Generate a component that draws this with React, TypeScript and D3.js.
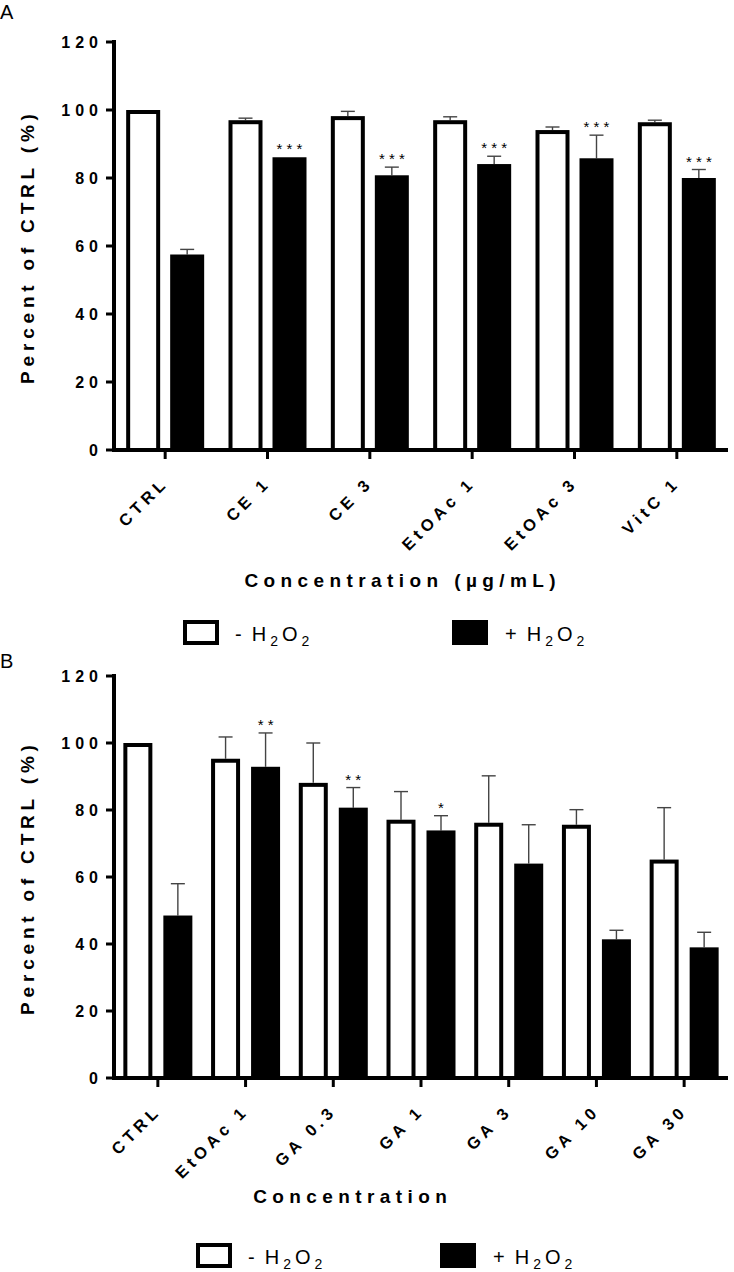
import React from "react";
import * as d3 from "d3";

const catsA = ["CTRL", "CE 1", "CE 3", "EtOAc 1", "EtOAc 3", "VitC 1"];
const minusA = [100, 97, 98.2, 97, 94.1, 96.4];
const minusErrA = [0, 0.6, 1.4, 1, 0.9, 0.6];
const plusA = [57.5, 86.1, 80.8, 84.1, 85.8, 80];
const plusErrA = [1.5, 0, 2.4, 2.3, 6.8, 2.5];
const starsA = ["", "* * *", "* * *", "* * *", "* * *", "* * *"];

const catsB = ["CTRL", "EtOAc 1", "GA 0.3", "GA 1", "GA 3", "GA 10", "GA 30"];
const minusB = [100, 95.3, 88.1, 77.1, 76.2, 75.6, 65.2];
const minusErrB = [0, 6.5, 11.9, 8.4, 14, 4.5, 15.5];
const plusB = [48.5, 92.9, 80.7, 73.9, 64, 41.4, 39];
const plusErrB = [9.5, 10.1, 6, 4.4, 11.6, 2.7, 4.5];
const starsB = ["", "* *", "* *", "*", "", "", ""];

const yTicks = [0, 20, 40, 60, 80, 100, 120];
const FONT = "'Liberation Sans', Arial, Helvetica, sans-serif";

type PanelProps = {
  letter: string;
  letterY: number;
  cats: string[];
  minus: number[];
  minusErr: number[];
  plus: number[];
  plusErr: number[];
  stars: string[];
  yTop: number;
  yZero: number;
  barW: number;
  gap: number;
  xTitle: string;
  xTitleX: number;
  xTitleY: number;
  legendY: number;
  legendX1: number;
  legendX2: number;
};

function Spaced({ text, s }: { text: string; s: number }) {
  return (
    <>
      {text.split("").map((ch, i) => (
        <tspan key={i} dx={i === 0 ? 0 : s}>
          {ch}
        </tspan>
      ))}
    </>
  );
}

function H2O2({ prefix }: { prefix: string }) {
  return (
    <>
      <tspan>{prefix}</tspan>
      <tspan dx={10}>H</tspan>
      <tspan fontSize={14} dx={4} dy={5}>2</tspan>
      <tspan dx={4} dy={-5}>O</tspan>
      <tspan fontSize={14} dx={4} dy={5}>2</tspan>
    </>
  );
}

function Panel(p: PanelProps) {
  const xLeft = 114;
  const xRight = 728;
  const y = d3.scaleLinear().domain([0, 120]).range([p.yZero, p.yTop]);
  const x0 = d3.scaleBand<string>().domain(p.cats).range([xLeft, xRight]);
  const inner = 2 * p.barW + p.gap;
  const x1 = d3
    .scaleBand<string>()
    .domain(["minus", "plus"])
    .range([0, inner])
    .paddingInner(p.gap / (p.barW + p.gap));
  const center = (c: string) => (x0(c) as number) + x0.bandwidth() / 2;
  const bx = (c: string, s: string) => center(c) - inner / 2 + (x1(s) as number);
  const sw = 4;
  return (
    <g>
      <text x={0} y={p.letterY} fontFamily={FONT} fontSize={20}>
        {p.letter}
      </text>
      {/* bars */}
      {p.cats.map((c, i) => {
        const wx = bx(c, "minus");
        const px = bx(c, "plus");
        const wTop = y(p.minus[i]);
        const pTop = y(p.plus[i]);
        const bw = x1.bandwidth();
        const wErrY = y(p.minus[i] + p.minusErr[i]);
        const pErrY = y(p.plus[i] + p.plusErr[i]);
        return (
          <g key={c}>
            {p.minusErr[i] > 0 && (
              <g stroke="#444" strokeWidth={1.4}>
                <line x1={wx + bw / 2} x2={wx + bw / 2} y1={wTop} y2={wErrY} />
                <line x1={wx + bw / 2 - 7} x2={wx + bw / 2 + 7} y1={wErrY} y2={wErrY} />
              </g>
            )}
            {p.plusErr[i] > 0 && (
              <g stroke="#444" strokeWidth={1.4}>
                <line x1={px + bw / 2} x2={px + bw / 2} y1={pTop} y2={pErrY} />
                <line x1={px + bw / 2 - 7} x2={px + bw / 2 + 7} y1={pErrY} y2={pErrY} />
              </g>
            )}
            <rect
              x={wx + sw / 2}
              y={wTop + sw / 2}
              width={bw - sw}
              height={p.yZero - wTop - sw / 2}
              fill="#fff"
              stroke="#000"
              strokeWidth={sw}
            />
            <rect x={px} y={pTop} width={bw} height={p.yZero - pTop} fill="#000" />
            {p.stars[i] && (
              <text
                x={px + bw / 2}
                y={pErrY - 3}
                textAnchor="middle"
                fontFamily={FONT}
                fontSize={15}
                fill="#000"
              >
                {p.stars[i]}
              </text>
            )}
          </g>
        );
      })}
      {/* y axis */}
      <line x1={xLeft} x2={xLeft} y1={p.yTop - 2} y2={p.yZero + 2} stroke="#000" strokeWidth={4} />
      {yTicks.map((t) => (
        <g key={t}>
          <line x1={xLeft - 8} x2={xLeft} y1={y(t)} y2={y(t)} stroke="#000" strokeWidth={3} />
          <text
            x={xLeft - 16}
            y={y(t)}
            dy="0.36em"
            textAnchor="end"
            fontFamily={FONT}
            fontWeight="bold"
            fontSize={16}
          >
            <Spaced text={String(t)} s={5} />
          </text>
        </g>
      ))}
      <text
        transform={`translate(34,${(p.yTop + p.yZero) / 2 + 3}) rotate(-90)`}
        textAnchor="middle"
        fontFamily={FONT}
        fontWeight="bold"
        fontSize={19}
      >
        <Spaced text="Percent of CTRL (%)" s={4.8} />
      </text>
      {/* x axis */}
      <line x1={xLeft - 2} x2={xRight} y1={p.yZero} y2={p.yZero} stroke="#000" strokeWidth={4} />
      {p.cats.map((c) => (
        <g key={"t" + c}>
          <line x1={center(c)} x2={center(c)} y1={p.yZero} y2={p.yZero + 9} stroke="#000" strokeWidth={3} />
          <text
            transform={`translate(${center(c) + 1},${p.yZero + 37}) rotate(-45)`}
            textAnchor="end"
            fontFamily={FONT}
            fontWeight="bold"
            fontSize={16.5}
          >
            <Spaced text={c} s={4.5} />
          </text>
        </g>
      ))}
      <text
        x={p.xTitleX}
        y={p.xTitleY}
        textAnchor="middle"
        fontFamily={FONT}
        fontWeight="bold"
        fontSize={19}
      >
        <Spaced text={p.xTitle} s={5.4} />
      </text>
      {/* legend */}
      <rect x={p.legendX1 + 2} y={p.legendY - 10} width={32} height={21} fill="#fff" stroke="#000" strokeWidth={4} />
      <text x={p.legendX1 + 52} y={p.legendY + 9} fontFamily={FONT} fontSize={20}>
        <H2O2 prefix="-" />
      </text>
      <rect x={p.legendX2} y={p.legendY - 12} width={36} height={25} fill="#000" />
      <text x={p.legendX2 + 53} y={p.legendY + 9} fontFamily={FONT} fontSize={20}>
        <H2O2 prefix="+" />
      </text>
    </g>
  );
}

export default function App() {
  return (
    <svg
      width={734}
      height={1272}
      style={{ position: "absolute", left: 0, top: 0, background: "#fff" }}
    >
      <rect width={734} height={1272} fill="#fff" />
      <Panel
        letter="A"
        letterY={19}
        cats={catsA}
        minus={minusA}
        minusErr={minusErrA}
        plus={plusA}
        plusErr={plusErrA}
        stars={starsA}
        yTop={42}
        yZero={450}
        barW={34}
        gap={10}
        xTitle="Concentration (µg/mL)"
        xTitleX={400}
        xTitleY={587}
        legendY={632}
        legendX1={183}
        legendX2={452}
      />
      <Panel
        letter="B"
        letterY={668}
        cats={catsB}
        minus={minusB}
        minusErr={minusErrB}
        plus={plusB}
        plusErr={plusErrB}
        stars={starsB}
        yTop={676}
        yZero={1078}
        barW={29}
        gap={11}
        xTitle="Concentration"
        xTitleX={350}
        xTitleY={1203}
        legendY={1255}
        legendX1={196}
        legendX2={440}
      />
    </svg>
  );
}
